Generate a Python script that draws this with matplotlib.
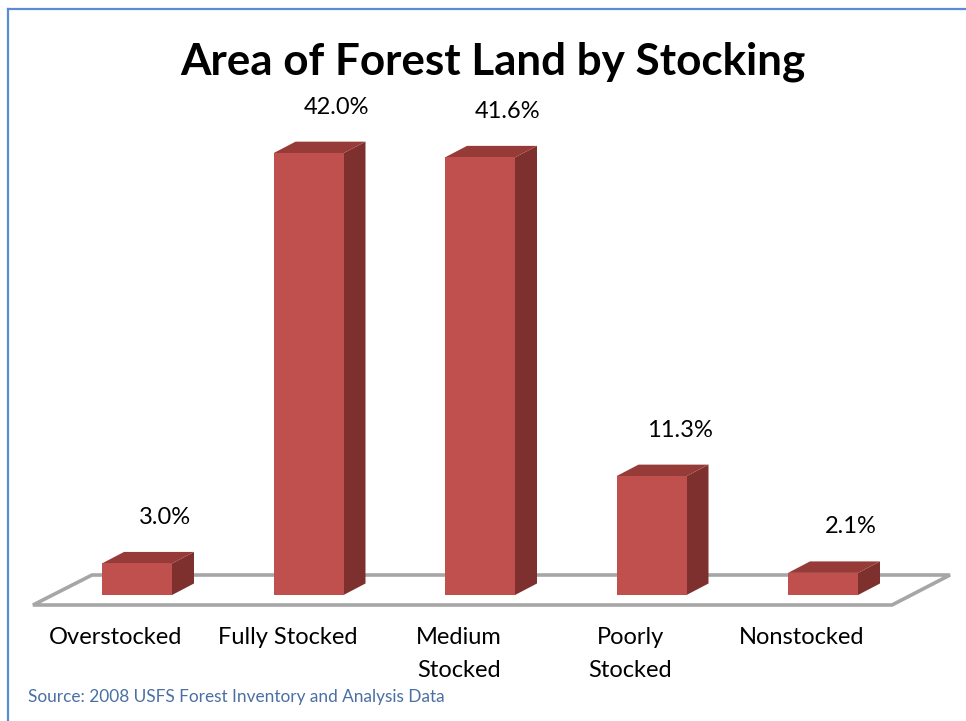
import matplotlib
matplotlib.use("Agg")
import matplotlib.pyplot as plt
from matplotlib.patches import Polygon, Rectangle
from matplotlib.lines import Line2D

categories = ["Overstocked", "Fully Stocked", "Medium\nStocked", "Poorly\nStocked", "Nonstocked"]
values = [3.0, 42.0, 41.6, 11.3, 2.1]
value_labels = ["3.0%", "42.0%", "41.6%", "11.3%", "2.1%"]
title = "Area of Forest Land by Stocking"
source = "Source: 2008 USFS Forest Inventory and Analysis Data"

W, H, DPI = 966, 721, 100
fig = plt.figure(figsize=(W / DPI, H / DPI), dpi=DPI)
ax = fig.add_axes([0, 0, 1, 1])
ax.set_axis_off()

# pixel -> data mapping (style constants)
px_per_cat = 171.5
px_per_pct = 10.52
x0_px = 137.0
base_row = 595.0
ax.set_xlim(-x0_px / px_per_cat, (W - x0_px) / px_per_cat)
ax.set_ylim(-(H - base_row) / px_per_pct, base_row / px_per_pct)

def px_dx(p):
    return p / px_per_cat

def px_dy(p):
    return p / px_per_pct

# floor
floor = Polygon([(px_dx(33 - 137), px_dy(-10)), (px_dx(892 - 137), px_dy(-10)),
                 (px_dx(950 - 137), px_dy(20)), (px_dx(92 - 137), px_dy(20))],
                closed=True, facecolor="white", edgecolor="#A6A6A6", linewidth=2.6, zorder=1)
ax.add_patch(floor)

bw = px_dx(70)
ddx, ddy = px_dx(22), px_dy(11.5)
front_c, top_c, side_c = "#C0504D", "#973B38", "#7E302E"

for i, v in enumerate(values):
    l, r = i - bw / 2, i + bw / 2
    ax.add_patch(Polygon([(r, 0), (r + ddx, ddy), (r + ddx, v + ddy), (r, v)],
                         closed=True, facecolor=side_c, edgecolor="none", zorder=3))
    ax.add_patch(Polygon([(l, v), (r, v), (r + ddx, v + ddy), (l + ddx, v + ddy)],
                         closed=True, facecolor=top_c, edgecolor="none", zorder=3))
    ax.add_patch(Rectangle((l, 0), bw, v, facecolor=front_c, edgecolor="none", zorder=4))
    ax.annotate(value_labels[i], (i, v), xytext=(28, 46), textcoords="offset pixels",
                ha="center", va="center", fontsize=17, family="Lato", color="black", zorder=5)
    ax.annotate(categories[i], (i, 0), xytext=(-21, -32), textcoords="offset pixels",
                ha="center", va="top", fontsize=17, family="Lato", color="black",
                linespacing=1.72, zorder=5)

fig.text(493 / W, 1 - 62 / H, title, ha="center", va="center", fontsize=31.7,
         fontweight="bold", family="Lato", color="black")
fig.text(28 / W, 1 - 697 / H, source, ha="left", va="center", fontsize=12.4,
         family="Lato", color="#4A6FA5")

# outer border (left and top visible)
fig.add_artist(Line2D([8 / W, 8 / W], [0, 1 - 9 / H], transform=fig.transFigure,
                      color="#5B8BD0", linewidth=1.6))
fig.add_artist(Line2D([8 / W, 1], [1 - 9 / H, 1 - 9 / H], transform=fig.transFigure,
                      color="#5B8BD0", linewidth=1.6))

fig.savefig("out.png", dpi=DPI, facecolor="white")
